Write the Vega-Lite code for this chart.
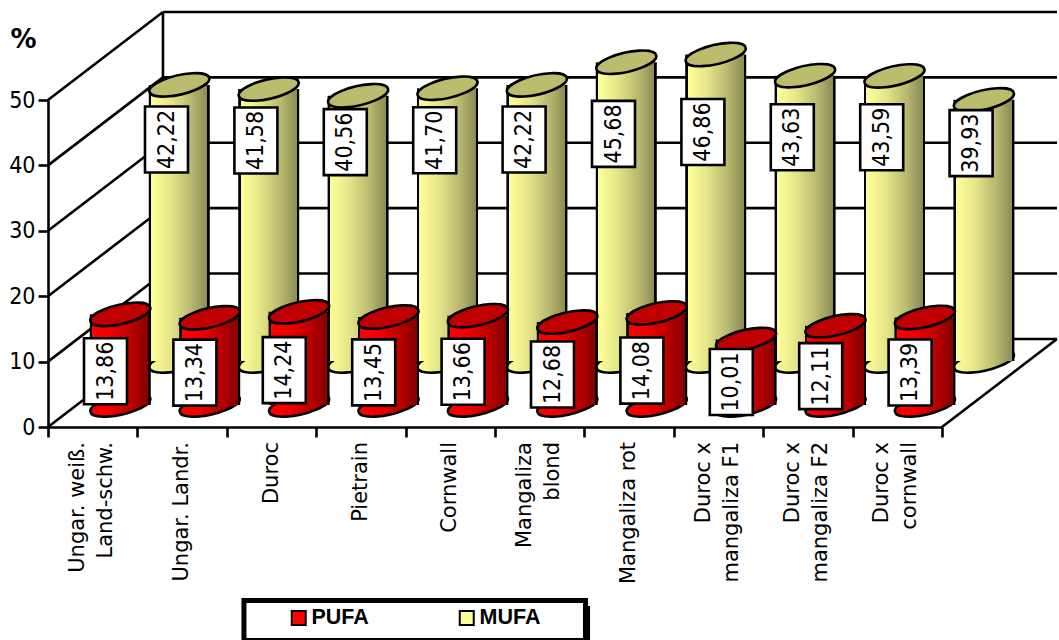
{
"$schema":"https://vega.github.io/schema/vega-lite/v6.json",
"width":1010,"height":415,"autosize":"none","padding":{"left":48,"top":12,"right":1,"bottom":213},"background":"white",
"config":{"view":{"stroke":null}},
"datasets":{
"d":[
{"c":"Ungar. weiß.|Land-schw.","s":"PUFA","v":13.86,"t":"13,86"},{"c":"Ungar. Landr.","s":"PUFA","v":13.34,"t":"13,34"},{"c":"Duroc","s":"PUFA","v":14.24,"t":"14,24"},{"c":"Pietrain","s":"PUFA","v":13.45,"t":"13,45"},{"c":"Cornwall","s":"PUFA","v":13.66,"t":"13,66"},{"c":"Mangaliza|blond","s":"PUFA","v":12.68,"t":"12,68"},{"c":"Mangaliza rot","s":"PUFA","v":14.08,"t":"14,08"},{"c":"Duroc x|mangaliza F1","s":"PUFA","v":10.01,"t":"10,01"},{"c":"Duroc x|mangaliza F2","s":"PUFA","v":12.11,"t":"12,11"},{"c":"Duroc x|cornwall","s":"PUFA","v":13.39,"t":"13,39"},
{"c":"Ungar. weiß.|Land-schw.","s":"MUFA","v":42.22,"t":"42,22"},{"c":"Ungar. Landr.","s":"MUFA","v":41.58,"t":"41,58"},{"c":"Duroc","s":"MUFA","v":40.56,"t":"40,56"},{"c":"Pietrain","s":"MUFA","v":41.70,"t":"41,70"},{"c":"Cornwall","s":"MUFA","v":42.22,"t":"42,22"},{"c":"Mangaliza|blond","s":"MUFA","v":45.68,"t":"45,68"},{"c":"Mangaliza rot","s":"MUFA","v":46.86,"t":"46,86"},{"c":"Duroc x|mangaliza F1","s":"MUFA","v":43.63,"t":"43,63"},{"c":"Duroc x|mangaliza F2","s":"MUFA","v":43.59,"t":"43,59"},{"c":"Duroc x|cornwall","s":"MUFA","v":39.93,"t":"39,93"}
],
"frame":[
{"x":0,"y":0,"x2":1.286,"y2":13.46},{"x":0,"y":10,"x2":1.286,"y2":23.46},{"x":0,"y":20,"x2":1.286,"y2":33.46},{"x":0,"y":30,"x2":1.286,"y2":43.46},{"x":0,"y":40,"x2":1.286,"y2":53.46},{"x":0,"y":50,"x2":1.286,"y2":63.46},
{"x":1.286,"y":13.46,"x2":11.286,"y2":13.46},{"x":1.286,"y":23.46,"x2":11.286,"y2":23.46},{"x":1.286,"y":33.46,"x2":11.286,"y2":33.46},{"x":1.286,"y":43.46,"x2":11.286,"y2":43.46},{"x":1.286,"y":53.46,"x2":11.286,"y2":53.46},{"x":1.286,"y":63.46,"x2":11.286,"y2":63.46},
{"x":1.286,"y":13.46,"x2":1.286,"y2":63.46},{"x":10,"y":0,"x2":11.286,"y2":13.46}
]
},
"resolve":{"scale":{"x":"independent","y":"independent","color":"independent"}},
"layer":[
{"data":{"name":"frame"},"mark":{"type":"rule","color":"black","strokeWidth":2.6},
"encoding":{
"x":{"field":"x","type":"quantitative","axis":null,"scale":{"domain":[0,10],"range":[0,894],"nice":false,"zero":false}},"x2":{"field":"x2"},
"y":{"field":"y","type":"quantitative","scale":{"domain":[0,50],"range":[415,88],"nice":false,"zero":false},
"axis":{"values":[0,10,20,30,40,50],"title":"%","titleAngle":0,"titleX":-25,"titleY":27,"titleAlign":"center","titleBaseline":"middle","titleFont":"DejaVu Sans","titleFontSize":26,"titleFontWeight":"bold","titleColor":"black","grid":false,"domainColor":"black","domainWidth":2.6,"tickColor":"black","tickWidth":2.6,"tickSize":10,"labelFont":"DejaVu Sans Condensed","labelFontSize":23,"labelColor":"black","labelPadding":3}},"y2":{"field":"y2"}}},
{"data":{"values":[{"x":2.26,"x2":6.063,"y":-27.37,"y2":-32.9}]},"mark":{"type":"rect","color":"black"},
"encoding":{"x":{"field":"x","type":"quantitative","axis":null,"scale":{"domain":[0,10],"range":[0,894],"nice":false,"zero":false}},"x2":{"field":"x2"},"y":{"field":"y","type":"quantitative","axis":null,"scale":{"domain":[0,50],"range":[415,88],"nice":false,"zero":false}},"y2":{"field":"y2"}}},
{"data":{"values":[{"x":2.192,"x2":6.012,"y":-26.53,"y2":-32.65}]},"mark":{"type":"rect","fill":"white","stroke":"black","strokeWidth":5},
"encoding":{"x":{"field":"x","type":"quantitative","axis":null,"scale":{"domain":[0,10],"range":[0,894],"nice":false,"zero":false}},"x2":{"field":"x2"},"y":{"field":"y","type":"quantitative","axis":null,"scale":{"domain":[0,50],"range":[415,88],"nice":false,"zero":false}},"y2":{"field":"y2"}}},

{"data":{"name":"d"},"transform":[{"filter":"datum.s=='MUFA'"}],
"mark":{"type":"point","filled":true,"opacity":1,"size":3770,"shape":"M-0.974,0.225A1,0.306,-13,1,1,0.974,-0.225A1,0.306,-13,1,1,-0.974,0.225Z","xOffset":86.6,"yOffset":-66,"fill":{"x1":0,"y1":0,"x2":1,"y2":0,"gradient":"linear","stops":[{"offset":0,"color":"#ffff99"},{"offset":0.35,"color":"#e6e68a"},{"offset":0.7,"color":"#b8b870"},{"offset":1,"color":"#8c8c55"}]},"stroke":"black","strokeWidth":2.6},
"encoding":{"x":{"field":"c","type":"nominal","sort":null,"scale":{"type":"band","range":[0,894],"padding":0},
"axis":{"title":null,"tickBand":"extent","labels":false,"domainColor":"black","domainWidth":2.6,"tickColor":"black","tickWidth":2.6,"tickSize":10,"grid":false}},
"y":{"datum":0,"type":"quantitative","axis":null,"scale":{"domain":[0,50],"range":[415,88],"nice":false,"zero":false}}}},
{"data":{"name":"d"},"transform":[{"filter":"datum.s=='MUFA'"}],
"mark":{"type":"bar","width":61,"xOffset":86.6,"x2Offset":86.6,"yOffset":-66,"y2Offset":-66,"fill":{"x1":0,"y1":0,"x2":1,"y2":0,"gradient":"linear","stops":[{"offset":0,"color":"black"},{"offset":0.04,"color":"black"},{"offset":0.041,"color":"#ffff99"},{"offset":0.35,"color":"#e6e68a"},{"offset":0.7,"color":"#b8b870"},{"offset":0.959,"color":"#8c8c55"},{"offset":0.96,"color":"black"},{"offset":1,"color":"black"}]}},
"encoding":{"x":{"field":"c","type":"nominal","sort":null,"axis":null,"scale":{"type":"band","range":[0,894],"padding":0}},
"y":{"field":"v","type":"quantitative","stack":null,"axis":null,"scale":{"domain":[0,50],"range":[415,88],"nice":false,"zero":false}},"y2":{"datum":0}}},
{"data":{"name":"d"},"transform":[{"filter":"datum.s=='MUFA'"}],
"mark":{"type":"point","filled":true,"opacity":1,"size":3770,"shape":"M-0.974,0.225A1,0.306,-13,1,1,0.974,-0.225A1,0.306,-13,1,1,-0.974,0.225Z","xOffset":86.6,"yOffset":-66,"fill":"#bcbc6e","stroke":"black","strokeWidth":2.6},
"encoding":{"x":{"field":"c","type":"nominal","sort":null,"axis":null,"scale":{"type":"band","range":[0,894],"padding":0}},
"y":{"field":"v","type":"quantitative","axis":null,"scale":{"domain":[0,50],"range":[415,88],"nice":false,"zero":false}}}},

{"data":{"name":"d"},"transform":[{"filter":"datum.s=='PUFA'"}],
"mark":{"type":"point","filled":true,"opacity":1,"size":3770,"shape":"M-0.974,0.225A1,0.306,-13,1,1,0.974,-0.225A1,0.306,-13,1,1,-0.974,0.225Z","xOffset":27.6,"yOffset":-22,"fill":{"x1":0,"y1":0,"x2":1,"y2":0,"gradient":"linear","stops":[{"offset":0,"color":"#ff0000"},{"offset":0.35,"color":"#ee0000"},{"offset":0.65,"color":"#c00000"},{"offset":1,"color":"#850000"}]},"stroke":"black","strokeWidth":2.6},
"encoding":{"x":{"field":"c","type":"nominal","sort":null,"axis":null,"scale":{"type":"band","range":[0,894],"padding":0}},
"y":{"datum":0,"type":"quantitative","axis":null,"scale":{"domain":[0,50],"range":[415,88],"nice":false,"zero":false}}}},
{"data":{"name":"d"},"transform":[{"filter":"datum.s=='PUFA'"}],
"mark":{"type":"bar","width":61,"xOffset":27.6,"x2Offset":27.6,"yOffset":-22,"y2Offset":-22,"fill":{"x1":0,"y1":0,"x2":1,"y2":0,"gradient":"linear","stops":[{"offset":0,"color":"black"},{"offset":0.04,"color":"black"},{"offset":0.041,"color":"#ff0000"},{"offset":0.35,"color":"#ee0000"},{"offset":0.65,"color":"#c00000"},{"offset":0.959,"color":"#850000"},{"offset":0.96,"color":"black"},{"offset":1,"color":"black"}]}},
"encoding":{"x":{"field":"c","type":"nominal","sort":null,"axis":null,"scale":{"type":"band","range":[0,894],"padding":0}},
"y":{"field":"v","type":"quantitative","stack":null,"axis":null,"scale":{"domain":[0,50],"range":[415,88],"nice":false,"zero":false}},"y2":{"datum":0}}},
{"data":{"name":"d"},"transform":[{"filter":"datum.s=='PUFA'"}],
"mark":{"type":"point","filled":true,"opacity":1,"size":3770,"shape":"M-0.974,0.225A1,0.306,-13,1,1,0.974,-0.225A1,0.306,-13,1,1,-0.974,0.225Z","xOffset":27.6,"yOffset":-22,"fill":"#c00000","stroke":"black","strokeWidth":2.6},
"encoding":{"x":{"field":"c","type":"nominal","sort":null,"axis":null,"scale":{"type":"band","range":[0,894],"padding":0}},
"y":{"field":"v","type":"quantitative","axis":null,"scale":{"domain":[0,50],"range":[415,88],"nice":false,"zero":false}}}},

{"data":{"name":"d"},"transform":[{"filter":"datum.s=='MUFA'"}],
"mark":{"type":"point","filled":true,"opacity":1,"size":1849,"shape":"M-1,-1.535H1V1.535H-1Z","xOffset":73.8,"fill":"white","stroke":"black","strokeWidth":2.6},
"encoding":{"x":{"field":"c","type":"nominal","sort":null,"axis":null,"scale":{"type":"band","range":[0,894],"padding":0}},
"y":{"field":"v","type":"quantitative","axis":null,"scale":{"domain":[0,50],"range":[195,115],"nice":false,"zero":false}}}},
{"data":{"name":"d"},"transform":[{"filter":"datum.s=='MUFA'"}],
"mark":{"type":"text","angle":270,"align":"center","baseline":"middle","xOffset":73.8,"font":"DejaVu Sans Condensed","fontSize":23,"color":"black"},
"encoding":{"x":{"field":"c","type":"nominal","sort":null,"axis":null,"scale":{"type":"band","range":[0,894],"padding":0}},
"y":{"field":"v","type":"quantitative","axis":null,"scale":{"domain":[0,50],"range":[195,115],"nice":false,"zero":false}},"text":{"field":"t"}}},
{"data":{"name":"d"},"transform":[{"filter":"datum.s=='PUFA'"}],
"mark":{"type":"point","filled":true,"opacity":1,"size":1849,"shape":"M-1,-1.535H1V1.535H-1Z","xOffset":12.8,"fill":"white","stroke":"black","strokeWidth":2.6},
"encoding":{"x":{"field":"c","type":"nominal","sort":null,"axis":null,"scale":{"type":"band","range":[0,894],"padding":0}},
"y":{"field":"v","type":"quantitative","axis":null,"scale":{"domain":[0,50],"range":[398,258],"nice":false,"zero":false}}}},
{"data":{"name":"d"},"transform":[{"filter":"datum.s=='PUFA'"}],
"mark":{"type":"text","angle":270,"align":"center","baseline":"middle","xOffset":12.8,"font":"DejaVu Sans Condensed","fontSize":23,"color":"black"},
"encoding":{"x":{"field":"c","type":"nominal","sort":null,"axis":null,"scale":{"type":"band","range":[0,894],"padding":0}},
"y":{"field":"v","type":"quantitative","axis":null,"scale":{"domain":[0,50],"range":[398,258],"nice":false,"zero":false}},"text":{"field":"t"}}},

{"data":{"name":"d"},"transform":[{"filter":"datum.s=='PUFA'&&indexof(datum.c,'|')<0"}],
"mark":{"type":"text","angle":270,"align":"right","baseline":"middle","yOffset":15,"font":"DejaVu Sans","fontSize":21,"color":"black"},
"encoding":{"x":{"field":"c","type":"nominal","sort":null,"axis":null,"scale":{"type":"band","domain":["Ungar. weiß.|Land-schw.","Ungar. Landr.","Duroc","Pietrain","Cornwall","Mangaliza|blond","Mangaliza rot","Duroc x|mangaliza F1","Duroc x|mangaliza F2","Duroc x|cornwall"],"range":[0,894],"padding":0}},
"y":{"datum":0,"type":"quantitative","axis":null,"scale":{"domain":[0,50],"range":[415,88],"nice":false,"zero":false}},"text":{"field":"c"}}},
{"data":{"name":"d"},"transform":[{"filter":"datum.s=='PUFA'&&indexof(datum.c,'|')>=0"}],
"mark":{"type":"text","angle":270,"align":"right","baseline":"middle","lineBreak":"|","lineHeight":28,"xOffset":-15,"yOffset":15,"font":"DejaVu Sans","fontSize":21,"color":"black"},
"encoding":{"x":{"field":"c","type":"nominal","sort":null,"axis":null,"scale":{"type":"band","domain":["Ungar. weiß.|Land-schw.","Ungar. Landr.","Duroc","Pietrain","Cornwall","Mangaliza|blond","Mangaliza rot","Duroc x|mangaliza F1","Duroc x|mangaliza F2","Duroc x|cornwall"],"range":[0,894],"padding":0}},
"y":{"datum":0,"type":"quantitative","axis":null,"scale":{"domain":[0,50],"range":[415,88],"nice":false,"zero":false}},"text":{"field":"c"}}},

{"data":{"name":"d"},"mark":{"type":"point","filled":true,"size":0},
"encoding":{
"x":{"field":"c","type":"nominal","sort":null,"axis":null,"scale":{"type":"band","range":[0,894],"padding":0}},
"y":{"field":"v","type":"quantitative","axis":null,"scale":{"domain":[0,50],"range":[415,88],"nice":false,"zero":false}},
"color":{"field":"s","type":"nominal","scale":{"domain":["PUFA","MUFA"],"range":["#ff0000","#ffff99"]},
"legend":{"title":null,"orient":"none","legendX":240,"legendY":595,"direction":"horizontal","columns":2,"padding":0,"symbolType":"square","symbolSize":196,"symbolOpacity":1,"symbolStrokeColor":"black","symbolStrokeWidth":2,"labelFont":"Liberation Sans","labelFontWeight":"bold","labelFontSize":21.5,"labelColor":"black","labelOffset":2,"columnPadding":86}}}}
]
}
